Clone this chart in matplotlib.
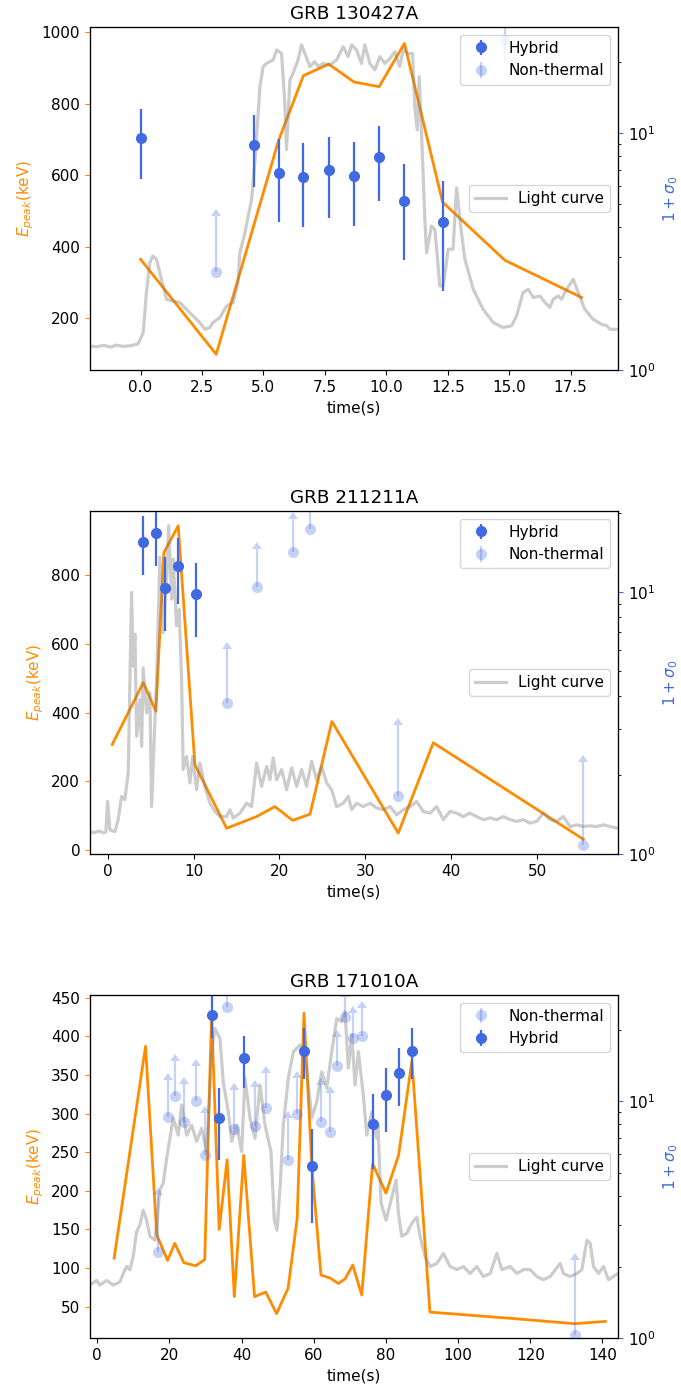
import matplotlib
matplotlib.use("Agg")
import matplotlib.pyplot as plt
import numpy as np

plt.rcParams["font.size"] = 11

# ---------------- GRB 130427A ----------------
a_ep_t = [0.0, 3.08, 5.62, 6.63, 7.66, 8.69, 9.71, 10.74, 12.29, 14.83, 17.95]
a_ep_v = [365, 99, 698, 879, 911, 861, 848, 969, 525, 362, 258]

a_hy_t = [0.0, 4.61, 5.62, 6.63, 7.66, 8.69, 9.71, 10.74, 12.29]
a_hy_s = [9.5, 8.9, 6.8, 6.55, 7.0, 6.6, 7.95, 5.15, 4.2]
a_hy_e = [3.1, 3.0, 2.6, 2.55, 2.6, 2.55, 2.8, 2.25, 2.05]

a_nt_t = [3.08, 14.83]
a_nt_s = [2.58, 24.7]
a_nt_e = [1.9, 5.0]
a_nt_lo = [True, False]

a_lc_t = [-2.06, -1.8, -1.5, -1.2, -1.0, -0.7, -0.4, -0.1, 0.11, 0.24, 0.38, 0.49,
          0.65, 0.85, 1.06, 1.33, 1.60, 1.87, 2.14, 2.41, 2.62, 2.82, 2.95, 3.23,
          3.50, 3.77, 3.97, 4.04, 4.25, 4.38, 4.52, 4.65, 4.86, 4.99, 5.13, 5.40,
          5.54, 5.74, 5.87, 5.94, 6.08, 6.21, 6.41, 6.55, 6.69, 6.89, 7.09, 7.23,
          7.43, 7.70, 7.98, 8.25, 8.45, 8.59, 8.79, 8.99, 9.13, 9.33, 9.54, 9.74,
          9.94, 10.15, 10.35, 10.55, 10.69, 10.89, 11.07, 11.16, 11.26, 11.34, 11.44,
          11.57, 11.64, 11.84, 11.98, 12.18, 12.32, 12.52, 12.72, 12.83, 12.86, 13.06,
          13.20, 13.54, 13.94, 14.35, 14.76, 15.10, 15.30, 15.57, 15.78, 15.98, 16.25,
          16.46, 16.66, 16.79, 17.00, 17.13, 17.34, 17.61, 17.81, 18.08, 18.42, 18.76,
          18.97, 19.10, 19.43]
a_lc_v = [122, 120, 124, 119, 125, 121, 123, 128, 160, 272, 355, 374,
          365, 309, 253, 248, 244, 225, 206, 188, 169, 174, 188, 202,
          234, 244, 300, 383, 439, 485, 532, 634, 848, 904, 913, 923,
          951, 941, 802, 672, 867, 886, 923, 965, 941, 904, 918, 904,
          913, 909, 923, 960, 932, 965, 951, 913, 965, 913, 895, 932,
          913, 927, 946, 904, 951, 941, 941, 792, 727, 876, 709,
          476, 383, 458, 448, 290, 290, 393, 393, 532, 565, 439,
          365, 281, 225, 188, 174, 179, 206, 272, 281, 258, 262,
          244, 230, 253, 262, 253, 281, 309, 272, 225, 197, 183,
          179, 169, 169]

# ---------------- GRB 211211A ----------------
b_ep_t = [0.54, 4.15, 5.62, 6.55, 8.22, 10.16, 13.85, 17.34, 19.47, 21.53, 23.55, 26.1, 33.82, 37.9, 55.35]
b_ep_v = [307, 487, 404, 866, 944, 248, 63, 97, 126, 86, 104, 374, 49, 312, 31]

b_hy_t = [4.15, 5.66, 6.67, 8.22, 10.28]
b_hy_s = [15.5, 16.7, 10.3, 12.5, 9.8]
b_hy_e = [3.95, 4.2, 3.2, 3.55, 3.1]

b_nt_t = [13.85, 17.41, 21.53, 23.58, 33.82, 55.35]
b_nt_s = [3.77, 10.4, 14.2, 17.3, 1.66, 1.08]
b_nt_e = [2.25, 4.1, 4.8, 5.0, 1.45, 1.17]
b_nt_lo = [True, True, True, True, True, True]

b_lc_t = [-2.06, -1.5, -1.0, -0.5, -0.2, 0.0, 0.27, 0.85, 1.23, 1.63, 2.01, 2.40,
          2.79, 2.98, 3.18, 3.38, 3.76, 3.96, 4.14, 4.54, 4.92, 5.12, 5.39, 5.70,
          6.09, 6.47, 6.87, 7.10, 7.45, 7.63, 7.83, 8.03, 8.33, 8.61, 8.80, 9.19,
          9.58, 9.89, 10.36, 10.74, 11.32, 11.90, 12.49, 13.07, 13.85, 14.23, 14.62,
          15.40, 16.18, 16.76, 17.34, 17.92, 18.51, 18.89, 19.27, 19.67, 20.25, 20.83,
          21.42, 22.00, 22.58, 23.16, 23.74, 24.32, 24.91, 25.49, 26.07, 26.65, 27.42,
          28.00, 28.40, 28.98, 29.75, 30.53, 31.31, 32.08, 32.86, 33.64, 34.40, 35.18,
          35.96, 36.73, 37.51, 38.29, 39.06, 39.84, 40.62, 41.39, 42.16, 42.95, 43.72,
          44.50, 45.27, 46.04, 46.82, 47.60, 48.37, 49.15, 49.93, 50.70, 51.48, 52.26,
          53.03, 53.80, 54.59, 55.35, 56.14, 56.92, 57.68, 58.46, 59.39]
b_lc_v = [53, 50, 55, 50, 52, 141, 58, 53, 88, 156, 146, 224,
          750, 535, 628, 331, 438, 302, 530, 399, 458, 126, 302, 496,
          852, 632, 788, 944, 730, 847, 750, 652, 701, 496, 234, 272,
          195, 272, 175, 253, 185, 136, 112, 97, 97, 117, 93,
          107, 136, 126, 253, 185, 243, 204, 268, 204, 234, 175,
          239, 185, 234, 185, 258, 204, 243, 195, 175, 126, 136,
          156, 117, 136, 126, 136, 122, 117, 126, 102, 117, 126,
          141, 112, 107, 126, 88, 112, 107, 97, 107, 97, 88,
          93, 88, 97, 88, 83, 88, 78, 83, 107, 88, 83,
          97, 68, 73, 68, 70, 68, 73, 68, 63]

# ---------------- GRB 171010A ----------------
c_ep_t = [4.7, 13.4, 16.5, 19.5, 21.5, 24.0, 27.3, 29.8, 31.7, 33.8, 36.0, 38.0, 40.6,
          43.6, 46.7, 49.7, 52.9, 55.4, 57.3, 59.5, 62.0, 64.6, 66.8, 68.7, 70.8, 73.3,
          76.3, 80.0, 83.5, 87.2, 92.2, 114.4, 132.3, 140.8]
c_ep_v = [113, 387, 143, 110, 132, 107, 103, 111, 428, 150, 240, 63, 246,
          63, 69, 41, 74, 164, 430, 230, 91, 87, 80, 86, 104, 65,
          235, 197, 246, 368, 43, 35, 28, 31]

c_hy_t = [31.7, 33.8, 40.6, 57.3, 59.5, 76.3, 80.0, 83.5, 87.2]
c_hy_s = [23.2, 8.5, 15.2, 16.4, 5.35, 8.0, 10.6, 13.2, 16.4]
c_hy_e = [4.7, 2.85, 3.8, 4.0, 2.3, 2.8, 3.2, 3.6, 4.0]

c_nt_t = [16.9, 19.5, 21.5, 24.0, 27.3, 29.8, 36.0, 38.0, 43.6, 46.7, 52.9, 55.4,
          62.0, 64.6, 66.4, 68.7, 70.8, 73.3, 132.3]
c_nt_s = [2.32, 8.63, 10.5, 8.15, 10.0, 5.91, 25.2, 7.66, 7.89, 9.42, 5.63, 8.89,
          8.18, 7.46, 14.1, 22.7, 18.5, 19.0, 1.03]
c_nt_e = [1.7, 3.7, 4.3, 3.7, 4.1, 3.0, 5.0, 3.5, 3.6, 3.8, 2.9, 3.7,
          3.6, 3.4, 4.7, 5.0, 5.1, 5.8, 1.1]
c_nt_lo = [True] * 19

c_lc_t = [-2.02, -0.17, 0.75, 2.61, 4.44, 6.29, 7.21, 8.15, 9.07, 9.98, 10.92, 11.84,
          12.75, 13.70, 14.61, 16.00, 17.38, 18.30, 19.24, 21.07, 22.46, 23.40, 24.78,
          26.17, 27.56, 28.94, 30.33, 31.72, 32.63, 34.02, 34.93, 36.33, 37.27, 38.65,
          40.03, 40.95, 42.34, 43.72, 45.11, 46.50, 48.15, 49.08, 49.83, 50.75, 51.57,
          52.96, 54.34, 56.20, 58.05, 59.44, 60.83, 62.21, 63.60, 64.98, 66.37, 67.76,
          68.67, 69.59, 70.53, 71.45, 72.36, 73.74, 74.68, 76.07, 77.46, 77.80, 78.65,
          80.04, 81.43, 82.82, 83.45, 84.39, 85.78, 87.16, 88.55, 89.47, 90.85, 92.24,
          94.10, 95.93, 97.78, 99.64, 101.47, 103.33, 105.19, 107.01, 108.88, 110.74,
          112.12, 114.43, 116.28, 118.11, 119.97, 121.82, 123.65, 125.51, 128.28, 129.19,
          131.05, 132.91, 134.29, 135.68, 136.60, 137.51, 138.90, 140.28, 141.67, 143.05,
          144.3]
c_lc_v = [78, 84, 78, 84, 78, 82, 93, 102, 98, 115, 147, 156,
          175, 162, 141, 136, 201, 210, 242, 294, 272, 311, 272,
          285, 264, 281, 251, 380, 410, 397, 341, 302, 264, 285,
          251, 346, 294, 268, 337, 285, 251, 162, 149, 210, 285,
          346, 380, 389, 359, 294, 315, 354, 333, 380, 423, 419,
          432, 359, 402, 337, 380, 324, 272, 302, 268, 285, 184,
          162, 188, 214, 171, 141, 145, 158, 166, 141, 115, 102,
          106, 119, 102, 98, 102, 93, 102, 89, 93, 119,
          98, 102, 93, 98, 98, 89, 85, 89, 106, 93,
          89, 93, 98, 136, 132, 102, 93, 102, 85, 89,
          93]


def draw_panel(ax, title, ep_t, ep_v, lc_t, lc_v, hy, nt, xlim, ylim, slim, nt_first=False):
    # orange peak energy on the left axis
    ax.plot(ep_t, ep_v, color="darkorange", lw=2)
    ax.set_xlim(xlim)
    ax.set_ylim(ylim)
    ax.set_title(title)
    ax.set_xlabel("time(s)")
    ax.set_ylabel(r"$E_{peak}$(keV)", color="darkorange")
    ax.tick_params(axis="y", color="darkorange")

    # light curve on its own hidden axis, same scale as the left one
    axl = ax.twinx()
    axl.plot(lc_t, lc_v, color="gray", alpha=0.4, lw=2.3, label="Light curve")
    axl.set_ylim(ylim)
    axl.set_yticks([])
    axl.legend(loc="center right")

    # magnetisation on a log axis at the right
    axs = ax.twinx()
    axs.set_yscale("log")

    def hybrid():
        axs.errorbar(hy[0], hy[1], yerr=hy[2], fmt="o", color="royalblue",
                     ms=7, elinewidth=1.6, capsize=0, label="Hybrid")

    def nonthermal():
        axs.errorbar(nt[0], nt[1], yerr=nt[2], lolims=np.array(nt[3]), fmt="o",
                     color="royalblue", alpha=0.3, ms=8, mew=0, elinewidth=1.6,
                     capsize=3.5, capthick=1.6, label="Non-thermal")

    if nt_first:
        nonthermal()
        hybrid()
    else:
        hybrid()
        nonthermal()
    axs.set_ylim(slim)
    axs.set_xlim(xlim)
    axs.set_ylabel(r"$1+\sigma_0$", color="royalblue")
    axs.tick_params(axis="y", color="royalblue")
    axs.legend(loc="upper right")


fig, axes = plt.subplots(3, 1, figsize=(6.81, 13.92), dpi=100)
fig.subplots_adjust(left=0.132, right=0.9075, top=0.9806, bottom=0.0388, hspace=0.411)

draw_panel(axes[0], "GRB 130427A", a_ep_t, a_ep_v, a_lc_t, a_lc_v,
           (a_hy_t, a_hy_s, a_hy_e), (a_nt_t, a_nt_s, a_nt_e, a_nt_lo),
           (-2.06, 19.43), (55, 1015), (1, 28))
draw_panel(axes[1], "GRB 211211A", b_ep_t, b_ep_v, b_lc_t, b_lc_v,
           (b_hy_t, b_hy_s, b_hy_e), (b_nt_t, b_nt_s, b_nt_e, b_nt_lo),
           (-2.06, 59.39), (-12, 987), (1, 20.3))
draw_panel(axes[2], "GRB 171010A", c_ep_t, c_ep_v, c_lc_t, c_lc_v,
           (c_hy_t, c_hy_s, c_hy_e), (c_nt_t, c_nt_s, c_nt_e, c_nt_lo),
           (-2.02, 144.3), (9.5, 453.5), (1, 28.2), nt_first=True)

fig.savefig("out.png", dpi=100)
